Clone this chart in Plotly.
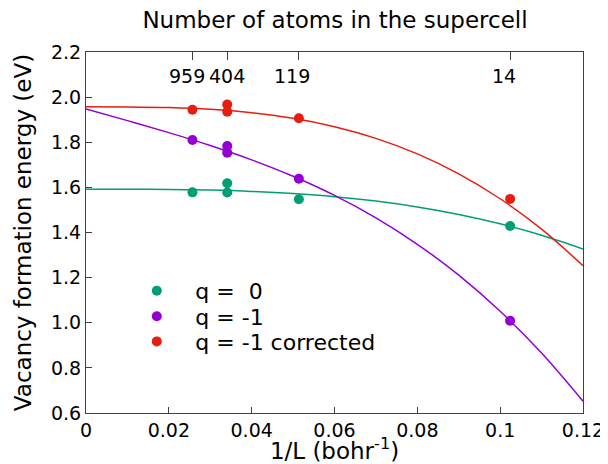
import plotly.graph_objects as go

# --- data ---
inv_L = [0.0257, 0.0341, 0.0341, 0.0514, 0.1024]
e_q0 = [1.578, 1.618, 1.577, 1.547, 1.429]
e_qm1 = [1.810, 1.783, 1.754, 1.638, 1.009]
e_qm1_corr = [1.944, 1.967, 1.935, 1.906, 1.549]

# fitted curves
fit_x = [0.0, 0.01, 0.02, 0.03, 0.04, 0.05, 0.06, 0.07, 0.08, 0.09, 0.10, 0.11, 0.12]
fit_q0 = [1.592, 1.5918, 1.5908, 1.5879, 1.5822, 1.5728, 1.5589, 1.5394, 1.5135, 1.4802, 1.4386, 1.3878, 1.3269]
fit_qm1 = [1.948, 1.8959, 1.8426, 1.7856, 1.7220, 1.6491, 1.5643, 1.4648, 1.3479, 1.2109, 1.0511, 0.8657, 0.6521]
fit_qm1_corr = [1.957, 1.9566, 1.9537, 1.9460, 1.9309, 1.9061, 1.8690, 1.8173, 1.7484, 1.6600, 1.5496, 1.4148, 1.2530]

x_tickvals = [0, 0.02, 0.04, 0.06, 0.08, 0.10, 0.12]
x_ticktext = ["0", "0.02", "0.04", "0.06", "0.08", "0.1", "0.12"]
y_tickvals = [0.6, 0.8, 1.0, 1.2, 1.4, 1.6, 1.8, 2.0, 2.2]
top_tickvals = [0.0257, 0.0341, 0.0514, 0.1024]
top_ticktext = ["959", "404", "119", "14"]
series_names = ["q =  0", "q = -1", "q = -1 corrected"]

GREEN = "#009e73"
PURPLE = "#9400d3"
RED = "#e51e10"
FONT = "DejaVu Sans"
AX = "#404040"

fig = go.Figure()
for fy, c in [(fit_q0, GREEN), (fit_qm1, PURPLE), (fit_qm1_corr, RED)]:
    fig.add_trace(go.Scatter(x=fit_x, y=fy, mode="lines", line=dict(color=c, width=1.5, shape="spline"),
                             showlegend=False, hoverinfo="skip"))
legend_ids = ["legend", "legend2", "legend3"]
for ey, c, name, lg in zip([e_q0, e_qm1, e_qm1_corr], [GREEN, PURPLE, RED], series_names, legend_ids):
    fig.add_trace(go.Scatter(x=inv_L, y=ey, mode="markers", marker=dict(color=c, size=10), name=name,
                             legend=lg))

# invisible trace to activate the top axis
fig.add_trace(go.Scatter(x=top_tickvals, y=[None] * len(top_tickvals), xaxis="x2", mode="markers",
                         showlegend=False, hoverinfo="skip"))

label_shifts = [-5, 0, -7, -6]
for tv, tt, sh in zip(top_tickvals, top_ticktext, label_shifts):
    fig.add_annotation(x=tv, y=1 - (75.5 - 52) / 361, xref="x", yref="paper", text=tt, showarrow=False,
                       xanchor="center", yanchor="middle", xshift=sh, font=dict(size=19, color="black"))

leg_common = dict(x=0.065, xanchor="left", yanchor="middle", bgcolor="rgba(0,0,0,0)",
                  font=dict(size=22), itemwidth=67)

fig.update_layout(
    width=600, height=456,
    margin=dict(l=78, r=25, t=44, b=51, autoexpand=False),
    paper_bgcolor="white", plot_bgcolor="white",
    font=dict(family=FONT, size=19, color="black"),
    title=dict(text="Number of atoms in the supercell", x=327 / 600, xanchor="center",
               y=1 - 11.5 / 456, yanchor="middle", yref="container", font=dict(size=23)),
    xaxis=dict(range=[0, 0.12], tickvals=x_tickvals, ticktext=x_ticktext, ticks="inside", ticklen=6,
               tickcolor=AX, showline=True, linecolor=AX, linewidth=1, mirror=True, showgrid=False,
               zeroline=False, tickfont=dict(size=19), automargin=False,
               title=dict(text="1/L (bohr<sup>-1</sup>)", font=dict(size=23), standoff=7)),
    xaxis2=dict(range=[0, 0.12], overlaying="x", side="top", tickvals=top_tickvals,
                showticklabels=False, ticks="inside", ticklen=8, tickcolor=AX, showgrid=False,
                zeroline=False, showline=False, automargin=False),
    yaxis=dict(range=[0.6, 2.2], tickvals=y_tickvals, tickformat=".1f", ticks="inside", ticklen=6,
               tickcolor=AX, showline=True, linecolor=AX, linewidth=1, mirror=True, showgrid=False,
               zeroline=False, tickfont=dict(size=19), automargin=False,
               title=dict(text="Vacancy formation energy (eV)", font=dict(size=23), standoff=12)),
    legend=dict(y=0.338, **leg_common),
    legend2=dict(y=0.2676, **leg_common),
    legend3=dict(y=0.1978, **leg_common),
)

fig.write_html("out.html")
